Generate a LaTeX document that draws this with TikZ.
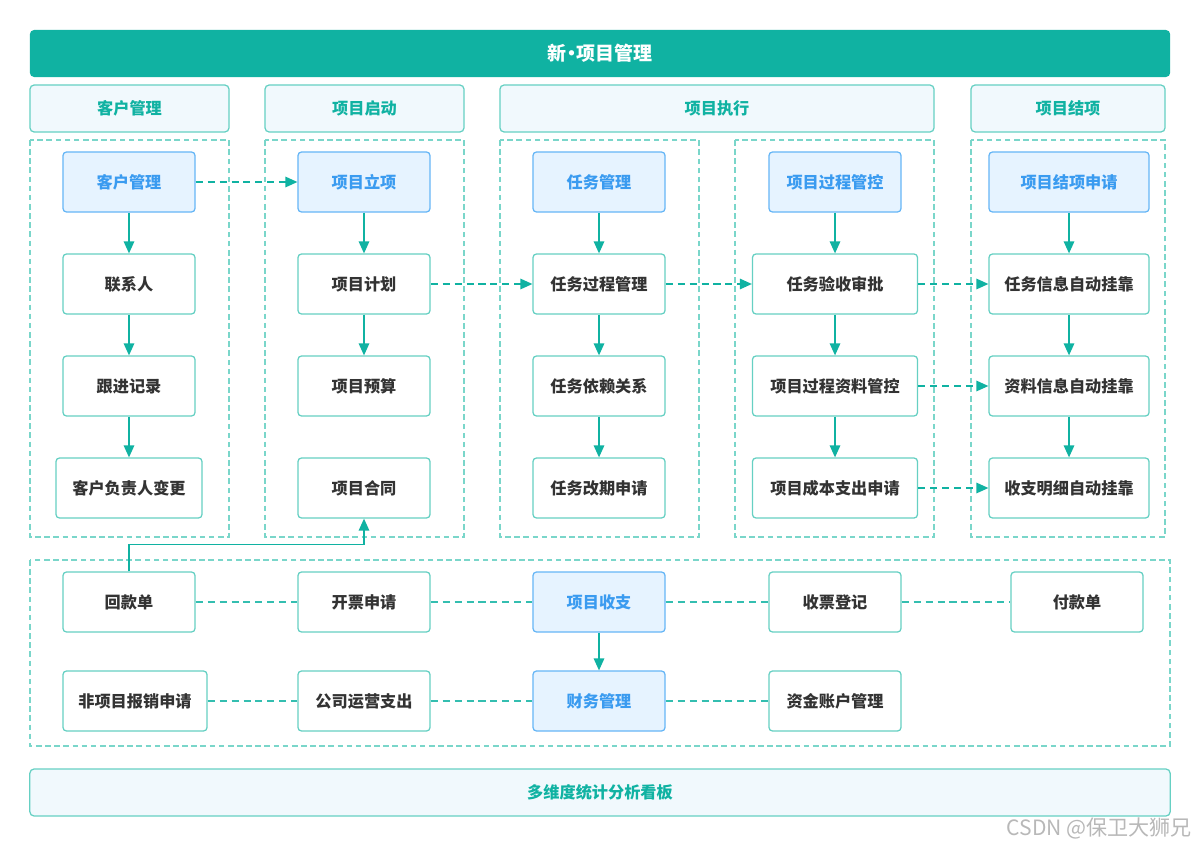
\documentclass[tikz,border=0pt]{standalone}
\usepackage{fontspec}
\setmainfont{Noto Sans CJK SC}
\usetikzlibrary{arrows.meta}

\definecolor{tealA}{HTML}{10B2A2}
\definecolor{tealB}{HTML}{66D0C3}
\definecolor{grpC}{HTML}{7AD6CA}
\definecolor{headF}{HTML}{F1F9FD}
\definecolor{blueF}{HTML}{E6F3FF}
\definecolor{blueB}{HTML}{66B6F6}
\definecolor{blueT}{HTML}{3A9BF0}
\definecolor{txt}{HTML}{333333}

\tikzset{
  box/.style={draw=tealB, line width=0.9pt, rounded corners=2.5pt, fill=white,
    minimum width=3.3cm, minimum height=1.5cm, text=txt,
    font=\bfseries\fontsize{11.5}{13}\selectfont},
  bbox/.style={box, draw=blueB, fill=blueF, text=blueT},
  head/.style={draw=tealB, line width=0.9pt, rounded corners=3pt, fill=headF,
    minimum height=1.175cm, text=tealA, font=\bfseries\fontsize{11.5}{13}\selectfont},
  grp/.style={draw=grpC, line width=0.75pt, dash pattern=on 4pt off 2.5pt},
  arr/.style={draw=tealA, line width=0.9pt, -{Triangle[length=8.5pt,width=7.5pt]}},
  darr/.style={arr, dash pattern=on 5pt off 3.5pt},
  dln/.style={draw=tealA!85, line width=0.9pt, dash pattern=on 5pt off 3.5pt}
}

\begin{document}
\begin{tikzpicture}[x=0.025cm, y=-0.025cm]
    \useasboundingbox (0,0) rectangle (1200,847);

    % title and headers
    \node[fill=tealA, rounded corners=3pt, minimum width=28.5cm, minimum height=1.175cm,
      text=white, font=\bfseries\fontsize{13.5}{15}\selectfont] (title) at (600,53.5)
      {新\kern-3pt·\kern-3pt项目管理};
    \node[head, minimum width=4.975cm] (h1) at (129.5,108.5) {客户管理};
    \node[head, minimum width=4.975cm] (h2) at (364.5,108.5) {项目启动};
    \node[head, minimum width=10.85cm] (h3) at (717,108.5) {项目执行};
    \node[head, minimum width=4.85cm] (h4) at (1068,108.5) {项目结项};

    % dashed groups
    \draw[grp] (30,140) rectangle (229,537);
    \draw[grp] (265,140) rectangle (464,537);
    \draw[grp] (500,140) rectangle (699,537);
    \draw[grp] (735,140) rectangle (934,537);
    \draw[grp] (971,140) rectangle (1165,537);
    \draw[grp] (30,560) rectangle (1170,746);

    % column 1
    \node[bbox] (kh) at (129,182) {客户管理};
    \node[box] (lx) at (129,284) {联系人};
    \node[box] (gj) at (129,386) {跟进记录};
    \node[box, minimum width=3.65cm] (fz) at (129,488) {客户负责人变更};

    % column 2
    \node[bbox] (lxm) at (364,182) {项目立项};
    \node[box] (jh) at (364,284) {项目计划};
    \node[box] (ys) at (364,386) {项目预算};
    \node[box] (ht) at (364,488) {项目合同};

    % column 3
    \node[bbox] (rw) at (599,182) {任务管理};
    \node[box] (gc) at (599,284) {任务过程管理};
    \node[box] (yl) at (599,386) {任务依赖关系};
    \node[box] (gq) at (599,488) {任务改期申请};

    % column 4
    \node[bbox, minimum width=3.3cm] (gk) at (835,182) {项目过程管控};
    \node[box, minimum width=4.125cm] (ysp) at (835,284) {任务验收审批};
    \node[box, minimum width=4.125cm] (zl) at (835,386) {项目过程资料管控};
    \node[box, minimum width=4.125cm] (cb) at (835,488) {项目成本支出申请};

    % column 5
    \node[bbox, minimum width=4cm] (jx) at (1069,182) {项目结项申请};
    \node[box, minimum width=4cm] (rg) at (1069,284) {任务信息自动挂靠};
    \node[box, minimum width=4cm] (zg) at (1069,386) {资料信息自动挂靠};
    \node[box, minimum width=4cm] (sg) at (1069,488) {收支明细自动挂靠};

    % bottom rows
    \node[box] (hk) at (129,602) {回款单};
    \node[box] (kp) at (364,602) {开票申请};
    \node[bbox] (sz) at (599,602) {项目收支};
    \node[box] (sp) at (835,602) {收票登记};
    \node[box] (fk) at (1077,602) {付款单};
    \node[box, minimum width=3.6cm] (fx) at (135,701) {非项目报销申请};
    \node[box] (yy) at (364,701) {公司运营支出};
    \node[bbox] (cw) at (599,701) {财务管理};
    \node[box] (zj) at (835,701) {资金账户管理};

    \node[head, minimum width=28.5cm] (kb) at (600,792.5) {多维度统计分析看板};

    % vertical arrows
    \foreach \a/\b in {kh/lx, lx/gj, gj/fz, lxm/jh, jh/ys, rw/gc, gc/yl, yl/gq,
      gk/ysp, ysp/zl, zl/cb, jx/rg, rg/zg, zg/sg, sz/cw}
      {\draw[arr] (\a) -- (\b);}

    % dashed arrows
    \foreach \a/\b in {kh/lxm, jh/gc, gc/ysp, ysp/rg, zl/zg, cb/sg}
      {\draw[darr] (\a.east) -- (\b.west);}

    % dashed links
    \foreach \a/\b in {hk/kp, kp/sz, sz/sp, sp/fk, fx/yy, yy/cw, cw/zj}
      {\draw[dln] (\a.east) -- (\b.west);}

    \draw[arr] (hk.north) -- ++(0,-27) -| (ht.south);

    \node[anchor=east, text=black!28, font=\fontsize{15}{17}\selectfont] (wm) at (1197,828) {CSDN @保卫大狮兄};
\end{tikzpicture}
\end{document}
